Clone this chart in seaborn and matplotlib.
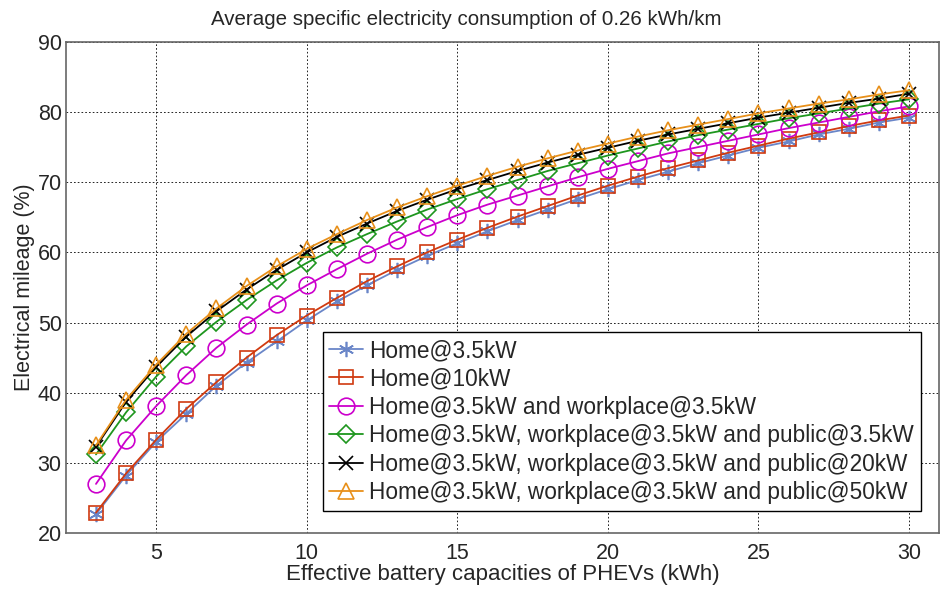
import matplotlib
matplotlib.use("Agg")
import matplotlib.pyplot as plt
import seaborn as sns
import pandas as pd

# Battery capacities (kWh)
capacity = list(range(3, 31))

# Electrical mileage (%) per charging scenario
home_3_5 = [22.7, 28.2, 33.0, 37.0, 41.0, 44.3, 47.3, 50.3, 53.0, 55.3, 57.5, 59.5, 61.3, 63.0,
            64.6, 66.1, 67.6, 69.0, 70.3, 71.5, 72.7, 73.8, 74.9, 75.8, 76.8, 77.6, 78.5, 79.2]
home_10 = [22.9, 28.5, 33.3, 37.7, 41.5, 45.0, 48.2, 51.0, 53.5, 55.9, 58.0, 60.0, 61.8, 63.5,
           65.1, 66.6, 68.1, 69.5, 70.8, 72.0, 73.1, 74.2, 75.2, 76.2, 77.1, 78.0, 78.8, 79.5]
home_work = [27.0, 33.2, 38.1, 42.5, 46.4, 49.7, 52.7, 55.3, 57.6, 59.8, 61.8, 63.6, 65.3, 66.8,
             68.1, 69.4, 70.7, 71.9, 73.0, 74.1, 75.0, 75.9, 76.8, 77.7, 78.5, 79.3, 80.1, 80.8]
home_work_pub_3_5 = [31.2, 37.2, 42.3, 46.6, 50.1, 53.2, 56.0, 58.5, 60.7, 62.6, 64.4, 66.1, 67.6, 69.0,
                     70.3, 71.6, 72.7, 73.8, 74.8, 75.8, 76.7, 77.5, 78.3, 79.1, 79.8, 80.5, 81.2, 81.8]
home_work_pub_20 = [32.3, 38.7, 43.7, 48.0, 51.6, 54.7, 57.5, 60.0, 62.2, 64.1, 65.9, 67.5, 69.0, 70.3,
                    71.6, 72.8, 73.9, 74.9, 75.9, 76.8, 77.6, 78.4, 79.2, 79.9, 80.6, 81.3, 81.9, 82.6]
home_work_pub_50 = [32.5, 39.0, 44.0, 48.4, 52.0, 55.2, 58.0, 60.5, 62.6, 64.6, 66.4, 68.0, 69.5, 70.9,
                    72.2, 73.4, 74.5, 75.5, 76.5, 77.4, 78.2, 79.0, 79.8, 80.5, 81.2, 81.8, 82.5, 83.1]

labels = ["Home@3.5kW",
          "Home@10kW",
          "Home@3.5kW and workplace@3.5kW",
          "Home@3.5kW, workplace@3.5kW and public@3.5kW",
          "Home@3.5kW, workplace@3.5kW and public@20kW",
          "Home@3.5kW, workplace@3.5kW and public@50kW"]
series = [home_3_5, home_10, home_work, home_work_pub_3_5, home_work_pub_20, home_work_pub_50]

colors = ["#6A86C8", "#D03A10", "#CC00CC", "#1E961E", "#000000", "#E8901A"]
markers = [(6, 2, 0), "s", "o", "D", "x", "^"]
sizes = [11, 10, 12, 9, 10, 12]

df = pd.DataFrame({"Capacity": capacity * len(series),
                   "Mileage": [v for s in series for v in s],
                   "Scenario": [lab for lab, s in zip(labels, series) for _ in s]})

sns.set_style("white")
plt.rcParams["font.family"] = ["Liberation Sans", "DejaVu Sans"]

fig = plt.figure(figsize=(9.41, 5.89), dpi=100)
ax = fig.add_axes([0.070, 0.095, 0.928, 0.834])

for lab, col, mk, ms in zip(labels, colors, markers, sizes):
    sub = df[df["Scenario"] == lab]
    sns.lineplot(x="Capacity", y="Mileage", data=sub, ax=ax, color=col, marker=mk,
                 markersize=ms, markerfacecolor="none", markeredgecolor=col,
                 markeredgewidth=1.2, linewidth=1.3, label=lab)

ax.set_xlim(2, 31)
ax.set_ylim(20, 90)
ax.set_xticks([5, 10, 15, 20, 25, 30])
ax.set_yticks(range(20, 91, 10))
ax.tick_params(labelsize=15.5, direction="in", length=4, color="#555555")
ax.tick_params(axis="x", pad=7)
ax.tick_params(axis="y", pad=3)
ax.grid(True, color="black", linestyle=(0, (2, 2.5)), linewidth=0.6)
for sp in ax.spines.values():
    sp.set_color("#666666")
    sp.set_linewidth(1.2)

ax.set_title("Average specific electricity consumption of 0.26 kWh/km", fontsize=14.8, pad=12, x=0.459)
ax.set_xlabel("Effective battery capacities of PHEVs (kWh)", fontsize=16, labelpad=0)
ax.set_ylabel("Electrical mileage (%)", fontsize=15.5, labelpad=2)

leg = ax.legend(loc="lower left", bbox_to_anchor=(0.294, 0.045), fontsize=16.3, frameon=True,
                fancybox=False, edgecolor="black", framealpha=1, handlelength=1.5,
                labelspacing=0.24, borderpad=0.3, handletextpad=0.25, borderaxespad=0)
leg.get_frame().set_linewidth(1.0)

fig.savefig("out.png", dpi=100)
